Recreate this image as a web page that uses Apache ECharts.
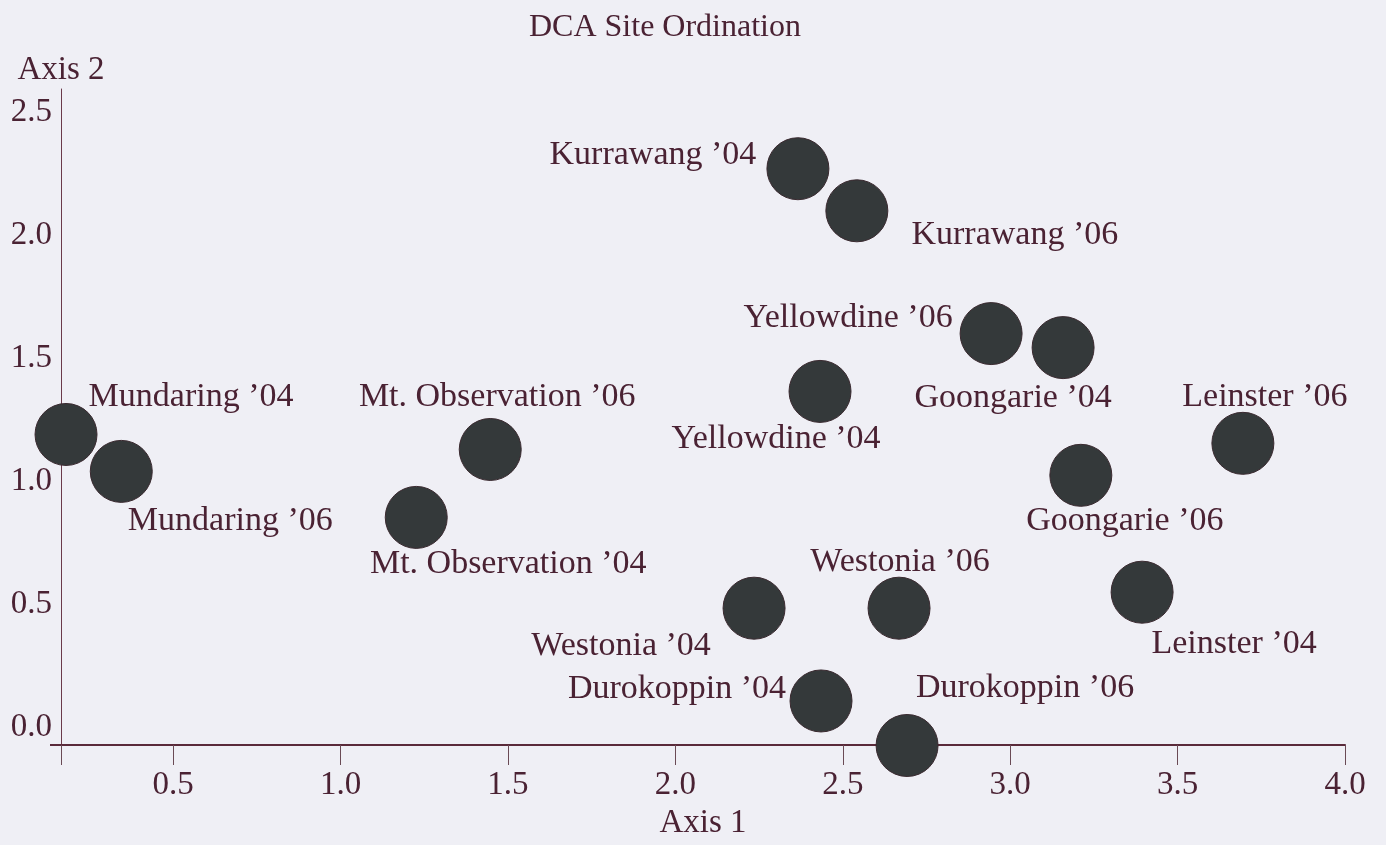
<!DOCTYPE html>
<html>
<head>
<meta charset="utf-8">
<title>DCA Site Ordination</title>
<script src="https://cdn.jsdelivr.net/npm/echarts@6/dist/echarts.min.js"></script>
<style>
	html, body { margin: 0; padding: 0; background: #efeff5; }
	#chart { width: 1386px; height: 845px; }
</style>
</head>
<body>
<div id="chart"></div>
<script>
/*
* 数据
*/
var sites = ['Mundaring ’04', 'Mundaring ’06', 'Mt. Observation ’06', 'Mt. Observation ’04',
	'Kurrawang ’04', 'Kurrawang ’06', 'Yellowdine ’06', 'Goongarie ’04', 'Yellowdine ’04',
	'Leinster ’06', 'Goongarie ’06', 'Westonia ’04', 'Westonia ’06', 'Leinster ’04',
	'Durokoppin ’04', 'Durokoppin ’06'];
var axis1 = [0.18, 0.345, 1.447, 1.226, 2.366, 2.542, 2.943, 3.158, 2.432,
	3.695, 3.211, 2.235, 2.668, 3.394, 2.435, 2.692];
var axis2 = [1.189, 1.039, 1.128, 0.852, 2.269, 2.098, 1.599, 1.542, 1.364,
	1.153, 1.023, 0.483, 0.483, 0.548, 0.106, -0.075];
var xTicks = [0.5, 1.0, 1.5, 2.0, 2.5, 3.0, 3.5, 4.0];
var yTicks = [0.0, 0.5, 1.0, 1.5, 2.0, 2.5];

// 标签相对点中心的偏移(像素)
var labelShift = [[125, -37], [109, 50], [7, -52], [92, 47],
	[-145, -14], [158, 24], [-143, -16], [-50, 50], [-44, 48],
	[22, -46], [44, 46], [-133, 38], [1, -46], [92, 52],
	[-144, -12], [118, -57]];

var ink = '#4a2233';
var serif = 'Liberation Serif, Times New Roman, serif';

var data = [];
for (var i = 0; i < sites.length; i++) {
	data.push({
		name: sites[i],
		value: [axis1[i], axis2[i]],
		label: { offset: labelShift[i] }
	});
}

var chart = echarts.init(document.getElementById('chart'));
var option = {
	backgroundColor: '#efeff5',
	animation: false,
	title: {
		text: 'DCA Site Ordination',
		left: 524,
		top: 7,
		textStyle: { fontFamily: serif, fontSize: 32, fontWeight: 'normal', color: ink }
	},
	grid: { left: 61, right: 41, top: 89, bottom: 99 },
	xAxis: {
		type: 'value',
		min: 0.165,
		max: 4.0,
		name: 'Axis 1',
		nameLocation: 'middle',
		nameGap: 62,
		nameTextStyle: { fontFamily: serif, fontSize: 33, color: ink },
		splitLine: { show: false },
		axisLine: { onZero: false, lineStyle: { color: '#5a2a3a', width: 2 } },
		axisTick: {
			show: true,
			length: 20,
			customValues: [0.165].concat(xTicks),
			lineStyle: { color: '#6a4a55', width: 1 }
		},
		axisLabel: {
			customValues: xTicks,
			margin: 24,
			fontFamily: serif,
			fontSize: 33,
			color: ink,
			formatter: function (v) { return v.toFixed(1); }
		}
	},
	yAxis: {
		type: 'value',
		min: -0.073,
		max: 2.593,
		name: 'Axis 2',
		nameLocation: 'end',
		nameGap: 2,
		nameTextStyle: { fontFamily: serif, fontSize: 33, color: ink },
		splitLine: { show: false },
		axisLine: { onZero: false, lineStyle: { color: '#6a3a4a', width: 1 } },
		axisTick: {
			show: true,
			length: 11,
			customValues: [-0.073],
			lineStyle: { color: '#5a2a3a', width: 2 }
		},
		axisLabel: {
			customValues: yTicks,
			margin: 9,
			fontFamily: serif,
			fontSize: 33,
			color: ink,
			formatter: function (v) { return v.toFixed(1); }
		}
	},
	series: [
		{
			type: 'scatter',
			data: data,
			clip: false,
			symbol: 'circle',
			symbolSize: 62,
			itemStyle: { color: '#34393a', borderColor: '#3a2a30', borderWidth: 1, opacity: 1 },
			label: {
				show: true,
				position: 'inside',
				align: 'center',
				verticalAlign: 'middle',
				formatter: '{b}',
				fontFamily: serif,
				fontSize: 34,
				color: ink
			},
			emphasis: { disabled: true }
		}
	]
};
chart.setOption(option);

window.onresize = function () {
	chart.resize();
};
</script>
</body>
</html>
